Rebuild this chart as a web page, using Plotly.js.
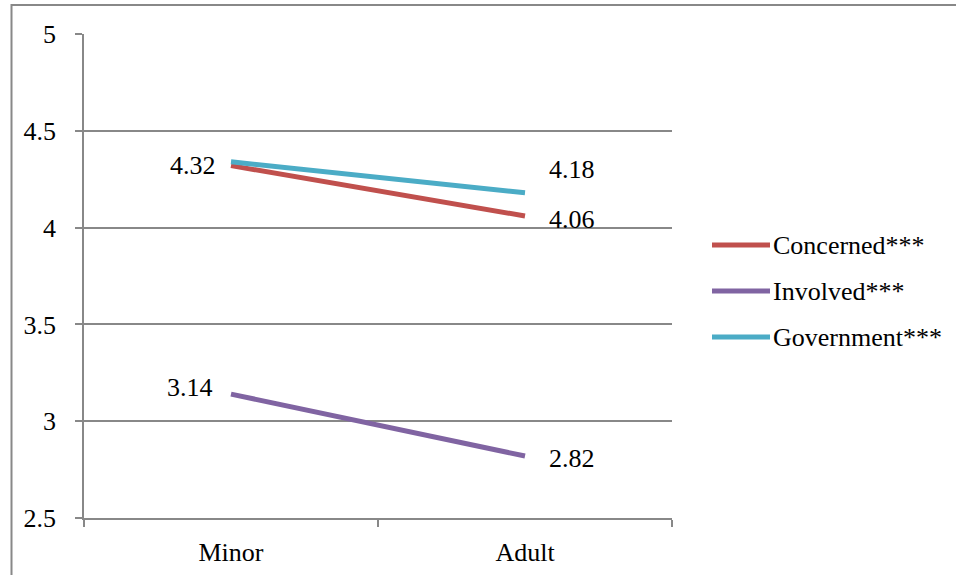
<!DOCTYPE html>
<html>
<head>
<meta charset="utf-8">
<script src="https://cdn.plot.ly/plotly-3.0.1.min.js"></script>
<style>
html,body{margin:0;padding:0;overflow:hidden;background:#fff;}
#chart{width:956px;height:575px;}
#chart svg text{font-family:'Liberation Serif', serif !important;}
</style>
</head>
<body>
<div id="chart"></div>
<script>
// ---- data ----
const categories = ['Minor', 'Adult'];
const seriesNames = ['Concerned***', 'Involved***', 'Government***'];
const concerned = [4.32, 4.06];
const involved = [3.14, 2.82];
const government = [4.34, 4.18];
const yTickVals = [2.5, 3, 3.5, 4, 4.5, 5];
const yTickText = ['2.5', '3', '3.5', '4', '4.5', '5'];
// which points carry a data label
const concernedLabelShown = [true, true];
const involvedLabelShown = [true, true];
const governmentLabelShown = [false, true];

// ---- styles ----
const colors = ['#C0504D', '#8064A2', '#4BACC6'];
const FONT = 'Liberation Serif';
const FS = 26;
const GRID = '#888888';
const M = {l: 84, r: 284, t: 34, b: 57};
const W = 956, H = 575;
const PW = W - M.l - M.r, PH = H - M.t - M.b;
const px2x = p => (p - M.l) / PW;
const py2y = p => (H - M.b - p) / PH;

const series = [concerned, involved, government];
const shown = [concernedLabelShown, involvedLabelShown, governmentLabelShown];
// label placement per series/point: [xanchor, xshift, yshift]
const labelPos = [
  [['right', -13, 0], ['left', 22, -4]],
  [['right', -16, 7], ['left', 22, -2]],
  [['right', -13, 0], ['left', 22, 23]]
];

const traces = series.map((vals, i) => ({
  type: 'scatter', mode: 'lines',
  x: categories, y: vals, name: seriesNames[i],
  line: {color: colors[i], width: 5},
  showlegend: false, hoverinfo: 'skip'
}));

const annotations = [];
series.forEach((vals, i) => {
  vals.forEach((v, j) => {
    if (!shown[i][j]) return;
    const p = labelPos[i][j];
    annotations.push({
      x: categories[j], y: v, xref: 'x', yref: 'y',
      text: v.toFixed(2), showarrow: false,
      xanchor: p[0], yanchor: 'middle', xshift: p[1], yshift: p[2],
      font: {family: FONT, size: FS, color: '#000000'}
    });
  });
});

const shapes = [];
// outer chart border
shapes.push({type: 'rect', xref: 'paper', yref: 'paper',
  x0: px2x(11.5), x1: px2x(990), y0: py2y(620), y1: py2y(5),
  line: {color: GRID, width: 2}, fillcolor: 'rgba(0,0,0,0)', layer: 'below'});
// custom legend
const legendY = [245, 291, 337];
seriesNames.forEach((n, i) => {
  shapes.push({type: 'line', xref: 'paper', yref: 'paper',
    x0: px2x(712), x1: px2x(770), y0: py2y(legendY[i]), y1: py2y(legendY[i]),
    line: {color: colors[i], width: 5}});
  annotations.push({xref: 'paper', yref: 'paper', x: px2x(771), y: py2y(legendY[i]),
    text: n, showarrow: false, xanchor: 'left', yanchor: 'middle',
    font: {family: FONT, size: FS, color: '#000000'}});
});

const layout = {
  width: W, height: H,
  margin: M,
  paper_bgcolor: '#fff', plot_bgcolor: '#fff',
  showlegend: false,
  font: {family: FONT, size: FS, color: '#000000'},
  xaxis: {
    type: 'category', range: [-0.5, 1.5], tickson: 'boundaries',
    showgrid: false, showline: true, linecolor: GRID, linewidth: 1.5,
    ticks: 'outside', ticklen: 7, tickcolor: GRID, tickwidth: 1.5,
    ticklabelstandoff: 10,
    tickfont: {family: FONT, size: FS, color: '#000000'}, zeroline: false
  },
  yaxis: {
    range: [2.5, 5], tickvals: yTickVals, ticktext: yTickText,
    showgrid: true, gridcolor: GRID, gridwidth: 1.5,
    showline: true, linecolor: GRID, linewidth: 1.5,
    ticks: 'outside', ticklen: 7, tickcolor: GRID, tickwidth: 1.5,
    ticklabelstandoff: 14,
    tickfont: {family: FONT, size: FS, color: '#000000'}, zeroline: false
  },
  shapes: shapes,
  annotations: annotations
};

Plotly.newPlot('chart', traces, layout, {displayModeBar: false});
</script>
</body>
</html>
